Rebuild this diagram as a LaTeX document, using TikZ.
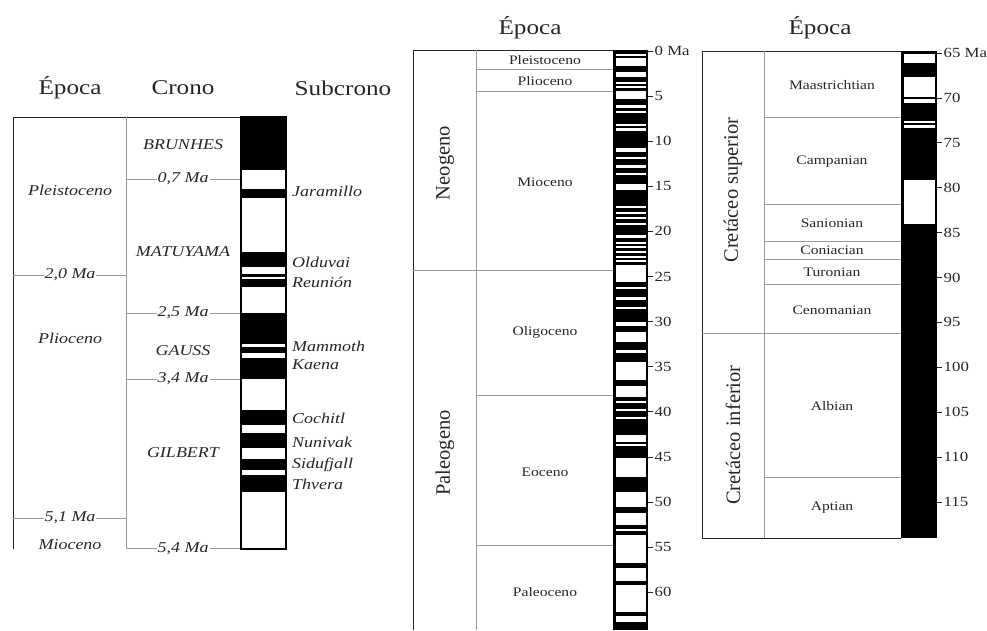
\documentclass[tikz,border=0pt]{standalone}
\usepackage{fontspec}
\setmainfont{Liberation Serif}
\usepackage{graphicx}
\newcommand{\wx}[1]{\scalebox{1.2}[1]{#1}}
\begin{document}
\begin{tikzpicture}[x=1pt,y=-1pt,
  dark/.style={draw=black!85, line width=1pt},
  grid/.style={draw=black!40, line width=0.6pt},
  hdr/.style={font=\fontsize{21}{21}\selectfont, text=black!85},
  itl/.style={font=\fontsize{15}{15}\selectfont\itshape, text=black!85, inner sep=1pt},
  lbl/.style={font=\fontsize{13}{13}\selectfont, text=black!85},
  rot/.style={font=\fontsize{20.5}{20.5}\selectfont, rotate=90, text=black!85},
  tickl/.style={font=\fontsize{14}{14}\selectfont, text=black!85, anchor=west, inner sep=1pt},
  strip/.style={fill=black, draw=black, line width=1pt},
  wband/.style={fill=white, draw=none}]
\useasboundingbox (0,0) rectangle (987,630);

% ================= LEFT PANEL =================
\node[hdr] (hE1) at (70,88) {\wx{Época}};
\node[hdr] (hC) at (183,88) {\wx{Crono}};
\node[hdr] (hS) at (343,88) {\wx{Subcrono}};

\draw[dark] (13,549) -- (13,117) -- (241,117);
\draw[grid] (126,117) -- (126,549);

% ticks with labels
\draw[grid] (126,179) -- (241,179);
\node[itl, fill=white] (m07) at (183,179) {\wx{0,7 Ma}};
\draw[grid] (13,275) -- (126,275);
\node[itl, fill=white] (m20) at (70,275) {\wx{2,0 Ma}};
\draw[grid] (126,313) -- (241,313);
\node[itl, fill=white] (m25) at (183,313) {\wx{2,5 Ma}};
\draw[grid] (126,379) -- (241,379);
\node[itl, fill=white] (m34) at (183,379) {\wx{3,4 Ma}};
\draw[grid] (13,518) -- (126,518);
\node[itl, fill=white] (m51) at (70,518) {\wx{5,1 Ma}};
\draw[grid] (126,548) -- (241,548);
\node[itl, fill=white] (m54) at (183,549) {\wx{5,4 Ma}};

\node[itl] (pleis) at (70,190) {\wx{Pleistoceno}};
\node[itl] (plio) at (70,338) {\wx{Plioceno}};
\node[itl] (mio) at (70,545) {\wx{Mioceno}};

\node[itl] (bru) at (183,145) {\wx{BRUNHES}};
\node[itl] (mat) at (183,252) {\wx{MATUYAMA}};
\node[itl] (gau) at (183,351) {\wx{GAUSS}};
\node[itl] (gil) at (183,453) {\wx{GILBERT}};

\begin{scope}[every node/.style={itl, anchor=west}]
\node (jar) at (291,191) {\wx{Jaramillo}};
\node (old) at (291,262) {\wx{Olduvai}};
\node (reu) at (291,282) {\wx{Reunión}};
\node (mam) at (291,346) {\wx{Mammoth}};
\node (kae) at (291,365) {\wx{Kaena}};
\node (coc) at (291,418) {\wx{Cochitl}};
\node (nun) at (291,442) {\wx{Nunivak}};
\node (sid) at (291,465) {\wx{Sidufjall}};
\node (thv) at (291,484) {\wx{Thvera}};
\end{scope}

% left polarity strip
\fill[white] (241,117) rectangle (286,549);
\foreach \a/\b in {117/170, 189/198, 252/267, 274/277, 279/287, 313/344, 347/353, 358/379, 410/425, 433/448, 459/470, 475/492}
  \fill[black] (241,\a) rectangle (286,\b);
\draw[draw=black, line width=1.3pt] (241,117) rectangle (286,549);

% ================= MIDDLE PANEL =================
\node[hdr] (hE2) at (530,28) {\wx{Época}};
\draw[dark] (413,630) -- (413,50) -- (613,50);
\draw[grid] (476,50) -- (476,630);
\draw[grid] (476,69) -- (613,69);
\draw[grid] (476,91) -- (613,91);
\draw[grid] (413,270) -- (613,270);
\draw[grid] (476,395) -- (613,395);
\draw[grid] (476,545) -- (613,545);

\node[lbl] (pl2) at (545,60) {\wx{Pleistoceno}};
\node[lbl] (pli2) at (545,81) {\wx{Plioceno}};
\node[lbl] (mi2) at (545,182) {\wx{Mioceno}};
\node[lbl] (oli) at (545,332) {\wx{Oligoceno}};
\node[lbl] (eoc) at (545,472) {\wx{Eoceno}};
\node[lbl] (pal) at (545,592) {\wx{Paleoceno}};
\node[rot] (neo) at (445,163) {Neogeno};
\node[rot] (paleo) at (445,453) {Paleogeno};

\fill[black] (613,50) rectangle (648,630);
\foreach \a/\b in {54/56, 58/66, 72/77, 82/84, 86/88, 91/99, 105/108, 111/113, 124/126, 128/131, 148/152, 157/158.5, 165/168, 173/174.5, 184/190, 206/208, 212/213.5, 217/218.5, 223/224.5, 235/238, 242/243.5, 246/248, 251/253, 256/257.5, 260/262, 265/282, 287/289, 297/300, 307/309, 322/326, 332/342, 350/353, 362/380, 386/397, 401/403, 409/411, 417/419, 435/442, 444/446, 458/477, 492/507, 513/525, 529/531, 535/563, 568/581, 585/612, 616/622}
  \fill[wband] (615.5,\a) rectangle (645.5,\b);

\foreach \i/\t in {0/0 Ma,1/5,2/10,3/15,4/20,5/25,6/30,7/35,8/40,9/45,10/50,11/55,12/60}{
  \draw[black!85, line width=0.8pt] (648,51+45.1*\i) -- (653,51+45.1*\i);
  \node[tickl] (tm\i) at (653.5,51+45.1*\i) {\wx{\t}};
}

% ================= RIGHT PANEL =================
\node[hdr] (hE3) at (820,28) {\wx{Época}};
\draw[dark] (901,538) -- (702,538) -- (702,51) -- (901,51);
\draw[grid] (764,51) -- (764,538);
\draw[grid] (764,117) -- (901,117);
\draw[grid] (764,204) -- (901,204);
\draw[grid] (764,241) -- (901,241);
\draw[grid] (764,259) -- (901,259);
\draw[grid] (764,284) -- (901,284);
\draw[grid] (702,333) -- (901,333);
\draw[grid] (764,477) -- (901,477);

\node[lbl] (maa) at (832,85) {\wx{Maastrichtian}};
\node[lbl] (cam) at (832,162) {\wx{Campanian}};
\node[lbl] (san) at (832,223) {\wx{Sanionian}};
\node[lbl] (con) at (832,250) {\wx{Coniacian}};
\node[lbl] (tur) at (832,272) {\wx{Turonian}};
\node[lbl] (cen) at (832,310) {\wx{Cenomanian}};
\node[lbl] (alb) at (832,406) {\wx{Albian}};
\node[lbl] (apt) at (832,508) {\wx{Aptian}};
\node[rot] (csup) at (733,190) {Cretáceo superior};
\node[rot] (cinf) at (733,435) {Cretáceo inferior};

\fill[black] (901,51) rectangle (937,538);
\foreach \a/\b in {54/63, 77/97, 99/103, 121/123, 125/128, 180/224}
  \fill[wband] (903.5,\a) rectangle (934.5,\b);

\foreach \i/\t in {0/65 Ma,1/70,2/75,3/80,4/85,5/90,6/95,7/100,8/105,9/110,10/115}{
  \draw[black!85, line width=0.8pt] (937,53+44.9*\i) -- (942,53+44.9*\i);
  \node[tickl] (tr\i) at (942.5,53+44.9*\i) {\wx{\t}};
}
\end{tikzpicture}
\end{document}
